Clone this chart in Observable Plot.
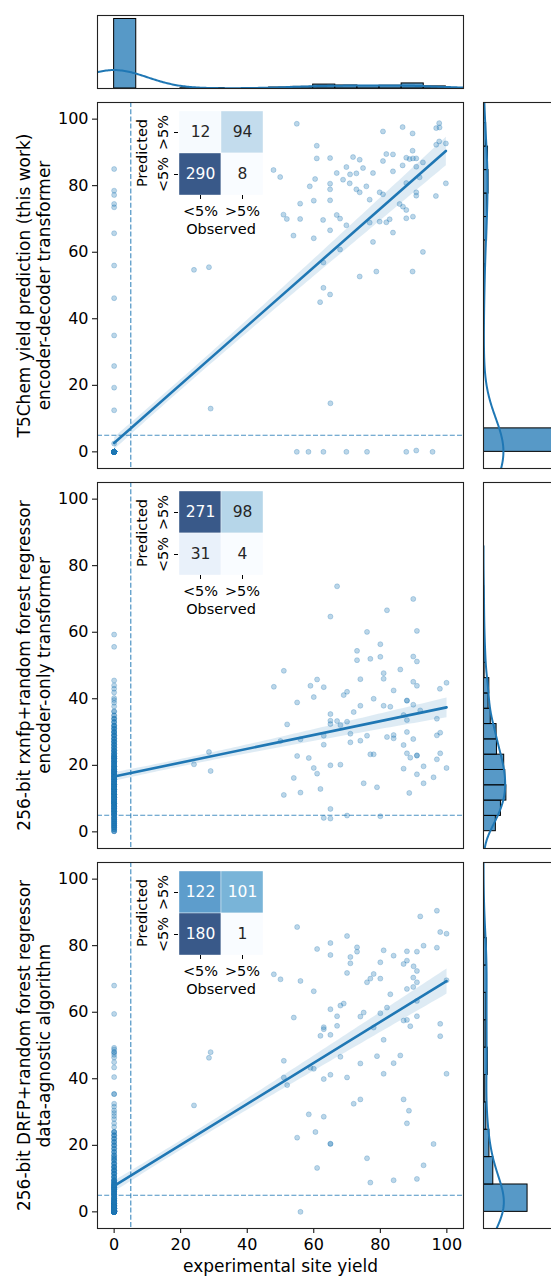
<!DOCTYPE html>
<html><head><meta charset="utf-8">
<script src="https://cdn.jsdelivr.net/npm/d3@7"></script>
<script src="https://cdn.jsdelivr.net/npm/@observablehq/plot@0.6"></script>
<style>
html,body{margin:0;padding:0;overflow:hidden;background:#fff;}
#fig{position:relative;width:551px;height:1276px;overflow:hidden;background:#fff;font-family:"DejaVu Sans",sans-serif;color:#000;}
.slot{position:absolute;}
.slot svg{display:block;}
</style></head><body><div id="fig"></div>
<script>
// ---------------- data ----------------
const threshold = 5;
const xTicks = [0, 20, 40, 60, 80, 100];
const yTicks = [0, 20, 40, 60, 80, 100];
const xLabel = "experimental site yield";
const panelLabels = [
  "T5Chem yield prediction (this work)\nencoder-decoder transformer",
  "256-bit rxnfp+random forest regressor\nencoder-only transformer",
  "256-bit DRFP+random forest regressor\ndata-agnostic algorithm"
];
const cmRows = [">5%", "<5%"];       // Predicted (top to bottom)
const cmCols = ["<5%", ">5%"];       // Observed
// confusion matrices: [pred>5 & obs<5, pred>5 & obs>5, pred<5 & obs<5, pred<5 & obs>5]
const p1CM = [12, 94, 290, 8];
const p2CM = [271, 98, 31, 4];
const p3CM = [122, 101, 180, 1];
// histogram bin counts (top marginal, right marginals)
const topBinsN = 15;
const rightBinsN = [14, 16, 11];

// panel 1 : observed 0 column (y levels and multiplicity)
const p1ColY = [0, 2.5, 12.5, 19.3, 25.8, 35, 46.2, 56, 65.7, 73.5, 74.5, 77.2, 78.5, 85];
const p1ColN = [289, 1, 1, 1, 1, 1, 1, 1, 1, 1, 1, 1, 1, 1];
const p1X = [54.9,97.7,96.8,97.8,86.7,80.8,89.7,97.7,96.8,99.7,60.9,89.7,81.8,83.8,60.9,64.9,71.8,73.8,80.8,87.8,88.8,89.8,90.8,92.8,86.7,90.8,47.9,69.8,74.8,83.8,66.9,70.9,72.8,77.8,49.9,60.4,68.8,91.8,87.8,58.8,64.9,64.9,70.8,75.8,72.8,73.8,79.8,80.8,90.8,90.8,99.7,96.7,60,64.9,76.8,55.9,85.8,86.8,87.8,50.9,51.9,55.9,62.8,66.9,67.9,69.8,76.8,79.8,81.8,82.8,87.8,89.8,64.9,53.9,60,83.8,77.8,67.9,92.8,62.9,78.8,89.7,73.8,62.9,64.9,61.9,24,28.5,29,65,54.9,58.4,62.9,69.8,76,87.8,90.8,95.7];
const p1Y = [98.6,98.8,97.3,97.5,97.6,96.3,95.7,93.3,92.3,92.7,92,90.5,89.5,89.4,88.2,88.3,88.6,87.8,87.4,88.4,88,88.2,88.2,87,86.1,85.7,84.7,85.6,85.3,84.3,83.8,83.4,83.7,83.8,82.6,82,81.8,82.5,80.8,79.8,80.6,78.9,80.7,79.8,78.9,78,78,77.4,78,77,80.7,76.9,75.5,75.6,75.8,74.6,74.5,73.7,72.7,71.3,70,70,69.7,71.2,70.1,68.1,68.9,69.2,69,69.9,70.2,70.7,66.6,65,64.2,65.9,63.1,60.8,60.1,56.9,54.2,54.2,52.7,49.3,47.3,45,54.7,55.5,13,14.6,0,0,0,0,0,0,0.4,0];

// panel 2
const p2ColY = [0.2,0.8,1.4,2,2.6,3.2,3.8,4.4, 5.3,6.1,6.9,7.7,8.5,9, 9.6,10.4,11.2,12,12.8,13.5, 14.2,15,15.8,16.6,17.4,18.1, 18.8,19.6,20.4,21.2,22,22.7, 23.5,24.4,25.3,26.2,27.1, 28,29,30,31,31.9, 33,34,35,36.2, 37.7,38.8,39.6,40.2, 41.9,43,44,45.5,55.6,59.3];
const p2ColN = [3,3,4,4,4,4,4,5, 7,8,8,8,8,7, 9,10,10,10,10,9, 9,9,9,9,9,8, 8,8,7,7,7,7, 6,6,5,5,5, 5,5,5,4,4, 3,3,2,2, 1,1,1,1, 1,1,1,1,1,1];
const p2X = [67,89.9,82,65,91,76,80,73,73,77,80,89.9,91,51,81,81,86,48,59,61,63,74,89.9,91,97.9,99.9,84,70,69,60,78,55,88,88,74,81,83,89.9,72,92,65,87,65,65,67,68,70,88,97,52,71,63,76,82,84,84,97,98,50,56,71,74,88,89.9,63,87,55,58.5,77,78,88,89,91,91,98,97,28.5,24,29,60,65,68,61,93,99.9,87,54,91,96,75,79,93,62,51,56,88.7,65,63,65,70,80];
const p2Y = [73.8,70,66.6,64.7,60.4,60.1,56.4,54.4,51.6,52,52.6,52.7,51.2,48.4,47.7,46,48.8,43.6,43.9,45.8,43.5,45.9,45.1,43.9,43,44.8,42.5,42.1,41.1,40.5,40,38.9,39.5,39.4,37.9,37.9,37.6,38.2,36,36.5,35.4,35.1,33.4,32.4,33.3,32.1,33.1,33.6,34,32.3,29.5,28.9,28.9,28.5,29.1,28.1,29,29.8,27.3,27.8,26.9,27.4,30,27.9,26.2,26.1,22.8,22.2,23.3,23.3,23.6,22.3,23,22.9,23.6,21.8,24,20.3,18.3,19.2,20,20.2,17.5,19.7,19.2,19,16.2,17.3,16.4,14.6,13.4,14.6,12.9,11.1,11.8,11.7,6.9,4.2,4,4.9,4.7];

// panel 3
const p3ColY = [0,0.5,1,1.5,2,2.5,3,3.5,4,4.5, 5.3,6,6.7,7.3,8, 8.7,9.5,10.5,11.5,12.5,13.5,14.5,15.5,16.2, 17,18,19,20,21,22,23,24, 25.5,26.6,27.9,28.8,29.7,30.5,31.6,32.5, 35.4,40.5, 43.4,45,46.4,47.2,48,48.8,49.3, 59.5,68];
const p3ColN = [90,20,15,12,10,9,8,6,5,5, 7,7,7,7,7, 6,6,5,5,5,5,4,3,3, 3,3,3,3,3,3,3,3, 1,1,1,1,1,1,1,1, 2,1, 1,1,1,1,2,1,1, 1,1];
const p3X = [97,92,55,98,99.9,70,65,73,73,93,97,61,81,88,91,65,84,71,71,80,87,88,90,91,70,48,50,56,78,77,76,80,89.9,89.9,91,99.9,88,60,83,91,68,69,82,65,75,74,80,67,54,87,88,91,67,78,89,63,63,98,62,65,81,98,51,68,79,86,59,60,74,84,51,52,63,65,70,81,99.9,24,28.5,29,72,74,87,88.6,88,58.5,63,55,60.5,65,65,96,76,61,93,84,91,77,56];
const p3Y = [90.5,88.8,85.6,84.1,83.6,82.9,80.8,79.5,78.2,80,79.4,79,78.6,78.3,78.2,77.2,77,76.6,74.7,75,74.5,75.5,73.8,72.4,71.8,71.4,69.9,69.4,71.5,70.1,69,70.1,70.4,67.6,69,69.6,67,66.3,65.4,63.4,62,62.6,61.4,60.9,59.9,58.7,59.7,58.8,58.4,57.5,57.7,58.8,55.9,55.4,55.8,55.5,54.9,56.5,52.9,53.2,51.7,52.8,45.4,46.6,46.8,47,43.3,43,44.6,44.7,40.4,38.1,39.9,41.2,40.4,41.5,41.5,32,46.3,48,32.5,33.8,33.8,30.4,26.6,29.3,28.6,22.3,24,20.4,20.5,20.4,16.1,13.2,14,9.5,9.9,8.8,0];

// ---------------- helpers ----------------
function buildPoints(colY, colN, xs, ys) {
  const pts = [];
  colY.forEach((y, i) => { for (let k = 0; k < colN[i]; k++) pts.push({x: 0, y}); });
  xs.forEach((x, i) => pts.push({x, y: ys[i]}));
  return pts;
}
function histBins(vals, n) {
  const [lo, hi] = d3.extent(vals);
  const w = (hi - lo) / n;
  const counts = new Array(n).fill(0);
  for (const v of vals) counts[Math.min(n - 1, Math.floor((v - lo) / w))]++;
  return counts.map((c, i) => ({a: lo + i * w, b: lo + (i + 1) * w, d: c / (vals.length * w)}));
}
function kde(vals) {
  const bw = d3.deviation(vals) * Math.pow(vals.length, -0.2);
  const a = d3.min(vals) - 3 * bw, b = d3.max(vals) + 3 * bw;
  const out = [];
  const norm = 1 / (vals.length * bw * Math.sqrt(2 * Math.PI));
  for (let i = 0; i <= 400; i++) {
    const t = a + (b - a) * i / 400;
    let s = 0;
    for (const v of vals) { const z = (t - v) / bw; s += Math.exp(-0.5 * z * z); }
    out.push({t, d: s * norm});
  }
  return out;
}

const fig = document.getElementById("fig");
function place(el, left, top, w) {
  const div = document.createElement("div");
  div.className = "slot";
  div.style.left = left + "px";
  div.style.top = top + "px";
  div.style.width = w + "px";
  div.appendChild(el);
  fig.appendChild(div);
}

const BLUE = "#1f77b4";
const FONT = "DejaVu Sans";
const panels = [
  {pts: buildPoints(p1ColY, p1ColN, p1X, p1Y), cm: p1CM, top: 102},
  {pts: buildPoints(p2ColY, p2ColN, p2X, p2Y), cm: p2CM, top: 482},
  {pts: buildPoints(p3ColY, p3ColN, p3X, p3Y), cm: p3CM, top: 862}
];
const frameSize = 366;
const dash = {stroke: BLUE, strokeOpacity: 0.8, strokeWidth: 1.2, strokeDasharray: "5,2.2"};

// ---------------- main panels ----------------
panels.forEach((p, i) => {
  const last = i === panels.length - 1;
  const h = last ? 2 + frameSize + 48 : 2 + frameSize + 2;
  const chart = Plot.plot({
    width: 470, height: h,
    marginLeft: 97, marginRight: 7, marginTop: 2, marginBottom: h - 2 - frameSize,
    style: {fontFamily: FONT, background: "transparent"},
    x: {domain: [-5, 105], ...(last ? {} : {axis: null})},
    y: {domain: [-5, 105]},
    marks: [
      Plot.dot(p.pts, {x: "x", y: "y", r: 2.5, fill: BLUE, fillOpacity: 0.3, stroke: BLUE, strokeOpacity: 0.32, strokeWidth: 0.8}),
      Plot.linearRegressionY(p.pts, {x: "x", y: "y", stroke: BLUE, strokeWidth: 2.6, fill: BLUE, fillOpacity: 0.15, ci: 0.95}),
      Plot.ruleX([threshold], dash),
      Plot.ruleY([threshold], dash),
      Plot.axisY({ticks: yTicks, tickSize: 5, tickPadding: 4, fontSize: 16, label: null}),
      last ? Plot.axisX({ticks: xTicks, tickSize: 5, tickPadding: 5, fontSize: 16, label: null}) : null,
      last ? Plot.text([xLabel], {frameAnchor: "bottom", dy: 38, textAnchor: "middle", lineAnchor: "middle", fontSize: 17, text: d => d}) : null,
      Plot.text([panelLabels[i]], {frameAnchor: "left", dx: -64, rotate: -90, textAnchor: "middle", lineAnchor: "middle", fontSize: 17, lineHeight: 1.18, text: d => d}),
      Plot.frame({stroke: "#222", strokeWidth: 1.1})
    ]
  });
  place(chart, 0, p.top - 2, 470);
});

// ---------------- confusion-matrix insets ----------------
panels.forEach((p) => {
  const v = p.cm;
  const cells = [
    {r: cmRows[0], c: cmCols[0], v: v[0]}, {r: cmRows[0], c: cmCols[1], v: v[1]},
    {r: cmRows[1], c: cmCols[0], v: v[2]}, {r: cmRows[1], c: cmCols[1], v: v[3]}
  ];
  const [lo, hi] = d3.extent(v);
  const dark = d => (d.v - lo) / (hi - lo) > 0.45;
  const chart = Plot.plot({
    width: 143, height: 135, marginLeft: 53, marginRight: 5, marginTop: 8, marginBottom: 42,
    style: {fontFamily: FONT, background: "transparent"},
    x: {domain: cmCols, padding: 0},
    y: {domain: cmRows, padding: 0},
    color: {type: "linear", scheme: "blues", domain: [lo, hi]},
    marks: [
      Plot.cell(cells, {x: "c", y: "r", fill: "v", fillOpacity: 0.8, stroke: "white", strokeWidth: 0.4}),
      Plot.text(cells.filter(dark), {x: "c", y: "r", text: d => String(d.v), fill: "white", fontSize: 15.5}),
      Plot.text(cells.filter(d => !dark(d)), {x: "c", y: "r", text: d => String(d.v), fill: "#262626", fontSize: 15.5}),
      Plot.axisX({tickSize: 4, tickPadding: 6, fontSize: 14.5, label: null}),
      Plot.axisY({tickSize: 4, tickFormat: () => "", label: null}),
      Plot.text(cmRows, {y: d => d, text: d => d, frameAnchor: "left", dx: -15, rotate: -90, textAnchor: "middle", lineAnchor: "middle", fontSize: 14.5}),
      Plot.text(["Predicted"], {frameAnchor: "left", dx: -36, rotate: -90, textAnchor: "middle", lineAnchor: "middle", fontSize: 14.5, text: d => d}),
      Plot.text(["Observed"], {frameAnchor: "bottom", dy: 34, textAnchor: "middle", lineAnchor: "middle", fontSize: 14.5, text: d => d})
    ]
  });
  place(chart, 125, p.top, 143);
});

// ---------------- top marginal (observed) ----------------
{
  const xs = panels[0].pts.map(d => d.x);
  const bins = histBins(xs, topBinsN);
  const dens = kde(xs);
  const ymax = 1.05 * Math.max(d3.max(bins, d => d.d), d3.max(dens, d => d.d));
  const chart = Plot.plot({
    width: 470, height: 95, marginLeft: 97, marginRight: 7, marginTop: 15, marginBottom: 7,
    style: {fontFamily: FONT, background: "transparent"},
    x: {domain: [-5, 105], axis: null},
    y: {domain: [0, ymax], axis: null},
    marks: [
      Plot.rect(bins, {x1: "a", x2: "b", y1: 0, y2: "d", fill: BLUE, fillOpacity: 0.75, stroke: "#000", strokeWidth: 1}),
      Plot.line(dens, {x: "t", y: "d", stroke: BLUE, strokeWidth: 2, clip: true}),
      Plot.frame({stroke: "#222", strokeWidth: 1.1})
    ]
  });
  place(chart, 0, 0, 470);
}

// ---------------- right marginals (predicted) ----------------
{
  const all = panels.map((p, i) => {
    const ys = p.pts.map(d => d.y);
    return {bins: histBins(ys, rightBinsN[i]), dens: kde(ys)};
  });
  const xmax = 1.05 * d3.max(all, a => d3.max(a.bins, d => d.d));
  const W = 85, ml = 3, fw = 74.6;
  all.forEach((a, i) => {
    const chart = Plot.plot({
      width: W, height: 370, marginLeft: ml, marginRight: W - ml - fw, marginTop: 2, marginBottom: 2,
      style: {fontFamily: FONT, background: "transparent"},
      x: {domain: [0, xmax], axis: null},
      y: {domain: [-5, 105], axis: null},
      marks: [
        Plot.rect(a.bins, {y1: "a", y2: "b", x1: 0, x2: "d", fill: BLUE, fillOpacity: 0.75, stroke: "#000", strokeWidth: 1, clip: true}),
        Plot.line(a.dens, {x: "d", y: "t", stroke: BLUE, strokeWidth: 2, clip: true}),
        Plot.frame({stroke: "#222", strokeWidth: 1.1})
      ]
    });
    place(chart, 480, panels[i].top - 2, W);
  });
}
</script></body></html>
